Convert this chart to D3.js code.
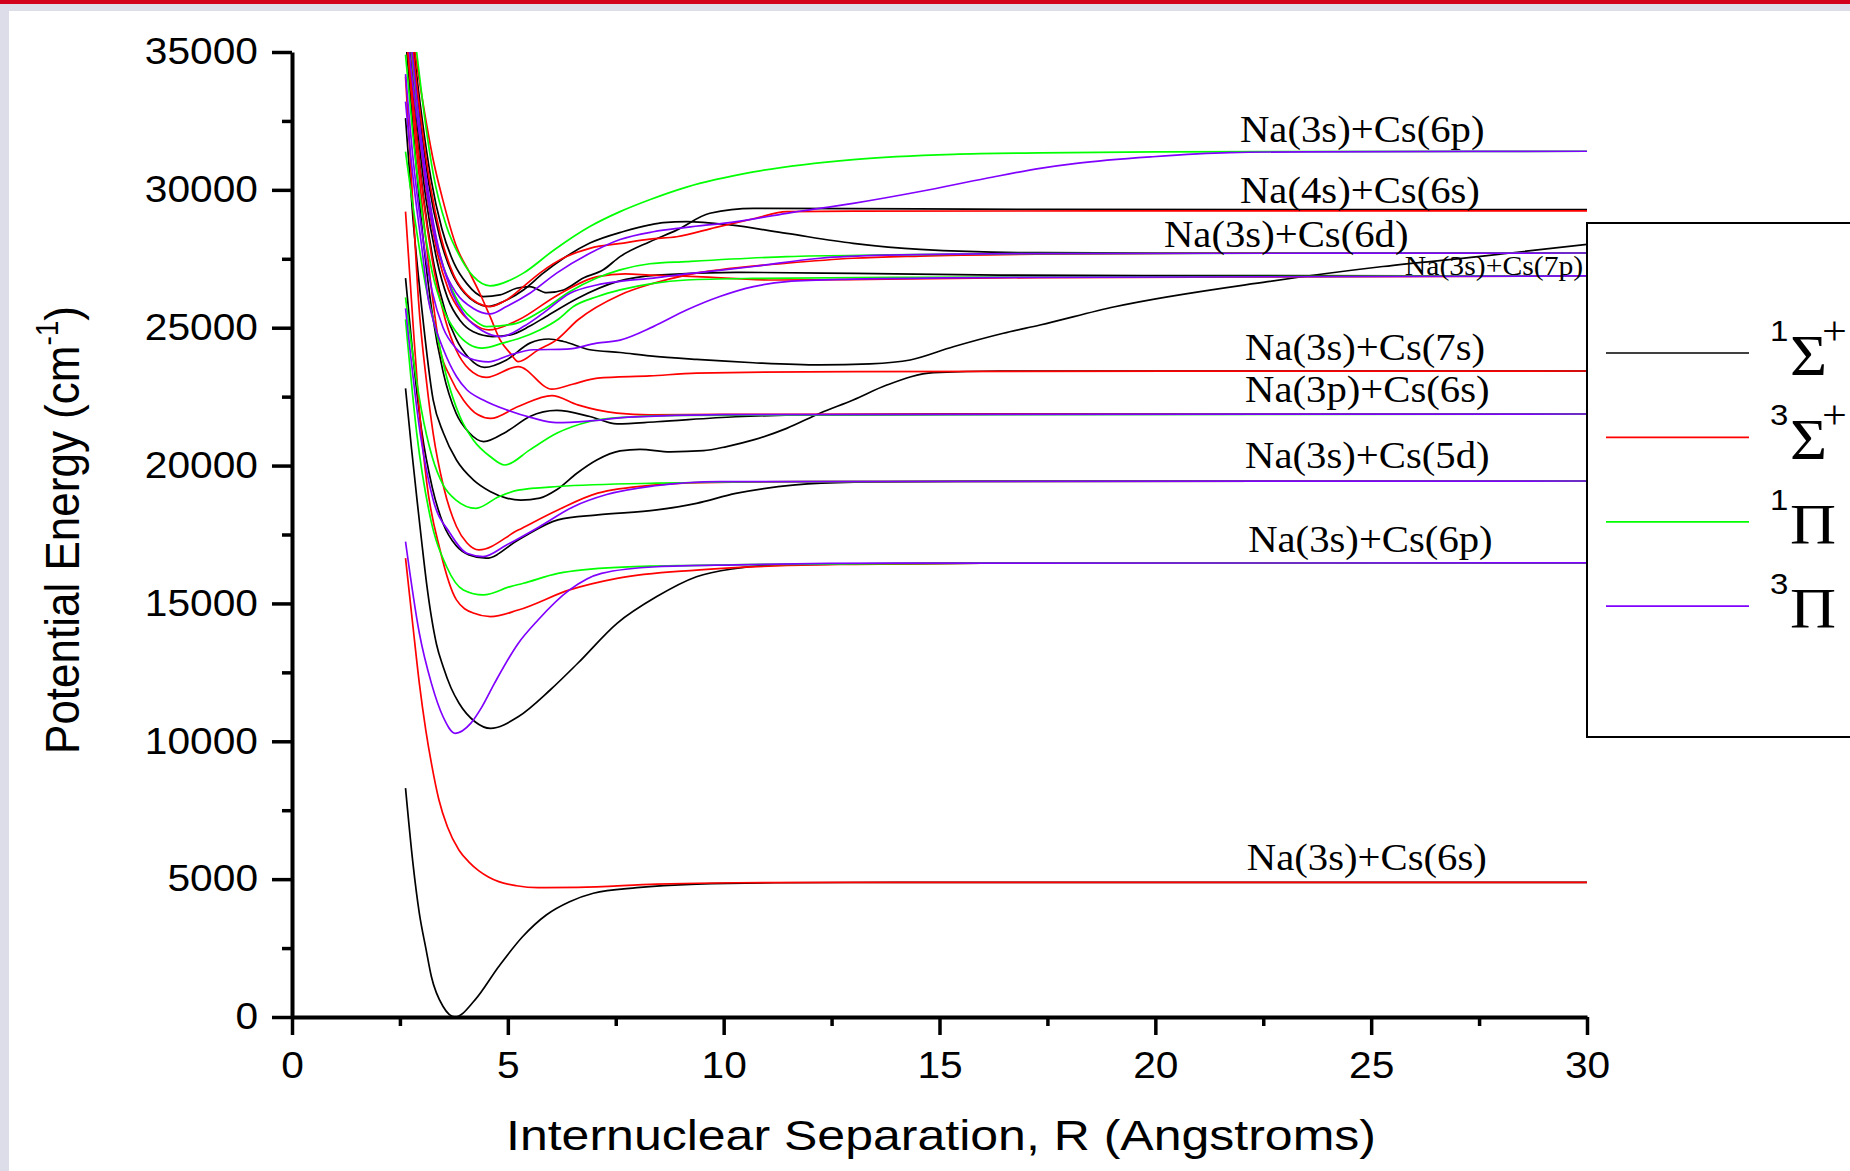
<!DOCTYPE html>
<html>
<head>
<meta charset="utf-8">
<script src="https://cdn.jsdelivr.net/npm/d3@7"></script>
<style>
  body { margin: 0; background: #fff; }
  svg { display: block; }
</style>
</head>
<body>
<div id="chart"></div>
<script>
// ---- data: [R (Angstrom), E (cm-1)] ----
// 1Sigma+ (black)
const sig1_6s = [[2.63,8300],[2.8,5600],[2.95,3760],[3.1,2500],[3.23,1460],[3.5,380],[3.78,0],[4.24,620],[4.79,1830],[5.34,2910],[5.89,3700],[6.43,4180],[6.98,4490],[7.99,4690],[9.37,4820],[11.2,4870],[14,4880],[30,4880]];
const sig1_6p = [[2.63,22800],[2.77,20600],[2.9,18700],[3.0,17300],[3.12,15700],[3.23,14500],[3.35,13500],[3.5,12710],[3.68,11950],[3.87,11380],[4.24,10710],[4.6,10470],[5.24,10890],[5.98,11860],[6.62,12830],[7.53,14280],[8.45,15250],[9.37,15970],[10.28,16270],[11.2,16400],[13.03,16430],[16,16460],[30,16470]];
const sig1_5d = [[2.63,26800],[2.8,24000],[3.0,21300],[3.25,19200],[3.5,17900],[3.8,17100],[4.1,16760],[4.5,16640],[5.24,17300],[6.16,18030],[7.08,18210],[8.45,18390],[9.37,18630],[10.28,18990],[11.66,19300],[13.03,19400],[16,19440],[30,19440]];
const sig1_3p = [[2.63,35600],[2.66,35000],[2.8,32300],[3.0,28800],[3.25,25500],[3.5,23400],[3.8,21900],[4.1,21200],[4.44,20870],[4.97,21230],[5.51,21780],[6.13,22000],[6.9,21780],[7.53,21510],[8.45,21590],[10.28,21770],[12,21840],[16,21870],[30,21870]];
const sig1_7s = [[2.63,32600],[2.8,29000],[3.0,25800],[3.27,22380],[3.51,21170],[3.81,20200],[4.2,19480],[4.59,19060],[4.97,18820],[5.3,18750],[5.74,18820],[6.13,19120],[6.6,19720],[7.06,20200],[7.6,20530],[8.06,20590],[8.76,20500],[9.53,20540],[10.07,20690],[10.69,20930],[11.46,21350],[12.23,21900],[13.0,22380],[13.78,22920],[14.86,23370],[16.4,23430],[30,23430]];
const sig1_hi = [[2.63,36800],[2.71,35000],[2.87,32300],[3.05,29700],[3.3,27200],[3.55,25600],[3.8,24600],[4.1,23900],[4.46,23560],[4.97,23830],[5.51,24440],[5.95,24590],[6.29,24500],[6.9,24200],[7.6,24100],[8.29,23980],[9.37,23850],[10.69,23730],[12.23,23650],[13.39,23690],[14.32,23830],[15.32,24310],[16.48,24800],[17.33,25100],[19.06,25760],[22.6,26670],[25.27,27220],[27.48,27580],[30,28020]];
const sig1_7p = [[2.63,37000],[2.74,35000],[2.9,32400],[3.1,29700],[3.35,27500],[3.6,26100],[3.9,25250],[4.2,24850],[4.65,24680],[5.06,24740],[5.5,25050],[5.88,25400],[6.62,26070],[7.53,26670],[8.45,26910],[10.28,27010],[13.03,26970],[16.4,26910],[20,26890],[30,26880]];
const sig1_6d = [[2.63,38000],[2.8,35000],[2.98,32400],[3.17,30200],[3.42,28300],[3.7,27000],[4.0,26250],[4.25,25920],[4.55,25770],[4.9,25950],[5.36,26370],[5.82,26980],[6.29,27520],[6.9,28070],[7.68,28490],[8.29,28730],[8.6,28810],[9.14,28850],[10.15,28730],[11.46,28420],[13.0,28060],[14.55,27840],[17.33,27720],[20,27710],[30,27710]];
const sig1_4s = [[2.63,38500],[2.83,35000],[3.02,32500],[3.22,30400],[3.47,28600],[3.75,27350],[4.05,26600],[4.43,26130],[4.82,26190],[5.2,26430],[5.51,26490],[5.9,26270],[6.29,26370],[6.75,26800],[7.21,27100],[7.6,27580],[8.29,28120],[8.91,28540],[9.68,29150],[10.69,29330],[13,29320],[17.33,29290],[30,29280]];

// 3Sigma+ (red)
const sig3_6s = [[2.63,16640],[2.8,14200],[2.95,12100],[3.1,10400],[3.23,9200],[3.4,7900],[3.6,6900],[3.87,6050],[4.1,5620],[4.33,5300],[4.55,5080],[4.79,4910],[5.2,4760],[5.7,4690],[6.62,4700],[8.45,4820],[10.28,4870],[13,4880],[30,4880]];
const sig3_6p = [[2.63,29210],[2.81,25000],[2.93,22400],[3.12,19400],[3.43,16940],[3.81,15130],[4.2,14650],[4.6,14520],[5.24,14760],[6.43,15490],[7.53,15910],[9.37,16210],[11.2,16360],[13.03,16420],[16,16460],[30,16470]];
const sig3_5d = [[2.63,34100],[2.8,29500],[2.93,26000],[3.12,22990],[3.27,21170],[3.51,19240],[3.81,17790],[4.05,17200],[4.33,16940],[5.24,17660],[6.16,18390],[7.08,19000],[8.45,19300],[9.5,19380],[12,19420],[30,19440]];
const sig3_3p = [[2.63,36000],[2.68,35000],[2.85,32000],[3.05,28900],[3.2,26800],[3.43,24200],[3.66,23230],[3.97,22380],[4.3,21850],[4.6,21710],[5.24,22140],[6.02,22540],[6.62,22200],[7.53,21900],[8.29,21840],[10,21860],[30,21870]];
const sig3_7s = [[2.63,36500],[2.7,35000],[2.85,32500],[3.05,29600],[3.3,27000],[3.55,25300],[3.8,24200],[4.1,23500],[4.5,23200],[5.24,23590],[6.02,22770],[6.5,22950],[7.08,23170],[8.29,23250],[9.37,23350],[13.03,23410],[30,23430]];
const sig3_7p = [[2.63,37300],[2.76,35000],[2.92,32500],[3.12,29900],[3.37,27700],[3.62,26400],[3.9,25600],[4.2,25150],[4.56,24920],[5.24,25280],[6.16,26190],[7.08,26850],[7.72,26950],[8.29,26910],[9.37,26850],[11.2,26730],[13.77,26760],[17.33,26820],[30,26880]];
const sig3_6d = [[2.63,38000],[2.85,35000],[3.04,33100],[3.27,31100],[3.5,29600],[3.81,27940],[4.12,26980],[4.35,26250],[4.59,25400],[4.82,24560],[5.06,24070],[5.24,23770],[5.7,24190],[6.13,24560],[6.62,25280],[7.6,26190],[8.37,26610],[9.14,26910],[9.91,27100],[11.46,27340],[13.0,27520],[14.55,27600],[17.33,27670],[22,27710],[30,27710]];
const sig3_4s = [[2.63,38200],[2.81,35000],[3.0,32400],[3.2,30200],[3.45,28300],[3.75,26900],[4.05,26200],[4.3,25900],[4.6,25770],[4.97,26010],[5.36,26490],[5.74,26980],[6.36,27580],[6.9,27880],[7.68,28070],[8.29,28210],[8.91,28300],[9.82,28640],[10.74,28970],[11.46,29210],[13,29230],[30,29240]];

// 1Pi (green)
const pi1_6p = [[2.63,25300],[2.89,21170],[3.2,18150],[3.58,16340],[3.97,15490],[4.43,15310],[5.06,15610],[5.36,15730],[6.16,16090],[7.53,16310],[9.37,16380],[11.2,16420],[16,16460],[30,16470]];
const pi1_5d = [[2.63,26100],[2.8,24000],[3.0,22000],[3.25,20300],[3.5,19300],[3.8,18750],[4.26,18450],[4.79,18870],[5.24,19110],[6.16,19240],[8.45,19360],[12,19420],[30,19440]];
const pi1_3p = [[2.63,31390],[2.85,28900],[3.1,26500],[3.35,24800],[3.58,23230],[3.89,21780],[4.2,20930],[4.59,20330],[4.93,20020],[5.51,20570],[6.13,21170],[6.9,21600],[7.68,21750],[9,21820],[30,21870]];
const pi1_7p = [[2.63,34900],[2.8,32000],[3.0,29300],[3.25,27000],[3.5,25700],[3.8,24850],[4.1,24400],[4.4,24260],[4.9,24450],[5.24,24600],[5.74,24920],[6.16,25300],[6.52,25770],[7.08,26130],[7.6,26370],[8.37,26610],[9.14,26730],[10.69,26790],[14,26830],[30,26880]];
const pi1_6d = [[2.63,37500],[2.77,35000],[2.95,32300],[3.15,29900],[3.4,27800],[3.65,26600],[3.95,25700],[4.2,25300],[4.5,25040],[5.2,25160],[5.82,25650],[6.44,26310],[7.06,26800],[7.6,27100],[8.29,27320],[9.14,27400],[11.46,27580],[13.77,27640],[17,27690],[30,27710]];
const pi1_hi = [[2.63,39000],[2.89,34960],[3.04,33020],[3.27,30600],[3.58,28670],[3.89,27580],[4.2,26860],[4.59,26520],[5.06,26730],[5.36,26980],[6.07,27820],[6.9,28670],[7.6,29210],[8.3,29650],[9.14,30100],[10.69,30650],[13.0,31100],[15.32,31290],[17.33,31340],[20,31380],[30,31400]];

// 3Pi (violet)
const pi3_6p = [[2.63,17240],[2.95,13920],[3.23,12100],[3.5,10890],[3.78,10290],[4.14,10650],[4.4,11250],[4.69,12100],[5.24,13550],[5.7,14400],[6.43,15490],[7.17,16090],[8.45,16330],[10.28,16400],[14,16460],[30,16470]];
const pi3_5d = [[2.63,25700],[2.97,21170],[3.27,18760],[3.66,17550],[4.05,16820],[4.43,16700],[4.97,17120],[5.74,17790],[6.52,18510],[7.29,18950],[8.37,19260],[9.92,19420],[30,19440]];
const pi3_3p = [[2.63,33200],[2.8,30500],[3.0,28000],[3.16,26010],[3.27,25280],[3.51,24200],[3.81,23230],[4.05,22750],[4.43,22380],[4.97,22020],[5.59,21720],[6.13,21560],[6.9,21620],[7.8,21760],[10,21850],[30,21870]];
const pi3_7p = [[2.63,34200],[2.8,31200],[3.0,28600],[3.25,26300],[3.5,25000],[3.8,24250],[4.1,23900],[4.55,23760],[5.05,24010],[5.59,24200],[6.36,24220],[7.06,24440],[7.6,24550],[8.37,25040],[9.14,25640],[9.91,26130],[10.69,26490],[11.46,26670],[13.0,26760],[16,26820],[30,26880]];
const pi3_6d = [[2.63,37600],[2.78,35000],[2.97,32200],[3.17,29800],[3.42,27700],[3.7,26300],[4.0,25450],[4.4,24900],[4.85,24680],[5.36,25040],[5.82,25530],[6.44,26250],[7.06,26550],[7.6,26680],[8.37,26800],[9.14,26950],[10.69,27220],[12.23,27520],[13.77,27630],[17,27690],[30,27710]];
const pi3_hi = [[2.63,36800],[2.73,34840],[2.97,31810],[3.2,29150],[3.5,27220],[3.81,26250],[4.2,25700],[4.59,25500],[4.97,25770],[5.51,26250],[6.13,26980],[6.9,27700],[7.6,28200],[8.37,28480],[9.14,28640],[10.3,28850],[11.46,29150],[13.0,29510],[14.55,29940],[16.09,30420],[17.33,30780],[18.17,30960],[19.94,31200],[21.71,31350],[23.48,31380],[30,31400]];

// asymptote labels: text, R, E (baseline)
const asymText = ["Na(3s)+Cs(6p)","Na(4s)+Cs(6s)","Na(3s)+Cs(6d)","Na(3s)+Cs(7p)","Na(3s)+Cs(7s)","Na(3p)+Cs(6s)","Na(3s)+Cs(5d)","Na(3s)+Cs(6p)","Na(3s)+Cs(6s)"];
const asymR = [21.96, 21.96, 20.2, 25.78, 22.08, 22.08, 22.08, 22.15, 22.12];
const asymE = [31740, 29525, 27930, 26910, 23830, 22305, 19913, 16866, 5332];

const xMajor = [0,5,10,15,20,25,30];
const xMinor = [2.5,7.5,12.5,17.5,22.5,27.5];
const yMajor = [0,5000,10000,15000,20000,25000,30000,35000];
const yMinor = [2500,7500,12500,17500,22500,27500,32500];

const legendSup = ["1","3","1","3"];
const legendSym = ["\u03A3","\u03A3","\u03A0","\u03A0"];
const legendPlus = [true,true,false,false];

const black = "#000000", red = "#ff0000", green = "#00ff00", violet = "#8000ff";
const legendColors = [black, red, green, violet];

const groups = [
  {color: black,  curves: [sig1_6s, sig1_6p, sig1_5d, sig1_3p, sig1_7s, sig1_hi, sig1_7p, sig1_6d, sig1_4s]},
  {color: red,    curves: [sig3_6s, sig3_6p, sig3_5d, sig3_3p, sig3_7s, sig3_7p, sig3_6d, sig3_4s]},
  {color: green,  curves: [pi1_6p, pi1_5d, pi1_3p, pi1_7p, pi1_6d, pi1_hi]},
  {color: violet, curves: [pi3_6p, pi3_5d, pi3_3p, pi3_7p, pi3_6d, pi3_hi]}
];

// ---- drawing ----
const width = 1850, height = 1171;
const sans = "'Liberation Sans', Arial, sans-serif";
const serif = "'Liberation Serif', 'Times New Roman', serif";

const x = d3.scaleLinear().domain([0, 30]).range([292, 1587]);
const y = d3.scaleLinear().domain([0, 35000]).range([1017, 52]);

const svg = d3.select("#chart").append("svg")
    .attr("width", width)
    .attr("height", height);

// page frame (slide border)
svg.append("rect").attr("width", width).attr("height", height).attr("fill", "#dddce9");
svg.append("rect").attr("x", 9).attr("y", 11).attr("width", width - 9).attr("height", height - 11).attr("fill", "#fff");
svg.append("rect").attr("width", width).attr("height", 4).attr("fill", "#d2001a");

svg.append("clipPath").attr("id", "plotClip")
  .append("rect").attr("x", 292).attr("y", 52).attr("width", 1295).attr("height", 970);

const line = d3.line()
    .x(d => x(d[0]))
    .y(d => y(d[1]))
    .curve(d3.curveMonotoneX);

const plot = svg.append("g").attr("clip-path", "url(#plotClip)");
groups.forEach(g => {
  plot.selectAll(null)
    .data(g.curves)
    .enter()
    .append("path")
    .attr("d", line)
    .attr("fill", "none")
    .attr("stroke", g.color)
    .attr("stroke-width", 1.7);
});

// axes
svg.append("g")
    .attr("transform", "translate(292,0)")
    .call(d3.axisLeft(y).tickValues(yMajor).tickSize(20).tickPadding(14).tickSizeOuter(0).tickFormat(d3.format("d")));
svg.append("g")
    .attr("transform", "translate(292,0)")
    .call(d3.axisLeft(y).tickValues(yMinor).tickSize(10).tickFormat(""))
    .call(g => g.select(".domain").remove());

svg.append("g")
    .attr("transform", "translate(0,1017)")
    .call(d3.axisBottom(x).tickValues(xMajor).tickSize(18).tickPadding(17).tickSizeOuter(0));
svg.append("g")
    .attr("transform", "translate(0,1017)")
    .call(d3.axisBottom(x).tickValues(xMinor).tickSize(9).tickFormat(""))
    .call(g => g.select(".domain").remove());

svg.selectAll(".domain").attr("stroke", "#000").attr("stroke-width", 4);
svg.selectAll(".tick line").attr("stroke", "#000").attr("stroke-width", 3.5);
svg.selectAll(".tick text")
    .attr("fill", "#000")
    .attr("class", "stretch")
    .style("font-family", sans)
    .style("font-size", "37px");

// axis titles
svg.append("text")
    .attr("x", 941)
    .attr("y", 1150)
    .attr("text-anchor", "middle")
    .attr("textLength", 870)
    .attr("lengthAdjust", "spacingAndGlyphs")
    .style("font-family", sans)
    .style("font-size", "42px")
    .text("Internuclear Separation, R (Angstroms)");

const yt = svg.append("text")
    .attr("transform", "translate(79,530) scale(1.1,1) rotate(-90)")
    .attr("text-anchor", "middle")
    .style("font-family", sans)
    .style("font-size", "44px");
yt.append("tspan").text("Potential Energy (cm");
yt.append("tspan").attr("dy", -19).style("font-size", "28px").text("-1");
yt.append("tspan").attr("dy", 19).text(")");

// asymptote labels
svg.selectAll(".asym")
  .data(asymText)
  .enter()
  .append("text")
  .attr("class", "stretch")
  .attr("x", (d, i) => x(asymR[i]))
  .attr("y", (d, i) => y(asymE[i]))
  .style("font-family", serif)
  .style("font-size", (d, i) => i === 3 ? "27px" : "37px")
  .text(d => d);

// legend
svg.append("rect")
    .attr("x", 1587).attr("y", 223)
    .attr("width", 300).attr("height", 514)
    .attr("fill", "#fff")
    .attr("stroke", "#000")
    .attr("stroke-width", 2);

legendColors.forEach((c, i) => {
  const ly = 353 + i * 84.4;
  svg.append("line")
    .attr("x1", 1606).attr("x2", 1749)
    .attr("y1", ly).attr("y2", ly)
    .attr("stroke", c).attr("stroke-width", 1.7);
  svg.append("text").attr("class", "stretch")
    .attr("x", 1770).attr("y", ly - 12)
    .style("font-family", sans).style("font-size", "30px")
    .text(legendSup[i]);
  svg.append("text").attr("class", "stretch")
    .attr("x", 1790).attr("y", ly + 22)
    .style("font-family", serif).style("font-size", "58px")
    .text(legendSym[i]);
  if (legendPlus[i]) {
    svg.append("text").attr("class", "stretch")
      .attr("x", 1822).attr("y", ly - 9)
      .style("font-family", serif).style("font-size", "40px")
      .text("+");
  }
});

// the original figure is slightly stretched horizontally
svg.selectAll("text.stretch").each(function() {
  const w = this.getComputedTextLength();
  this.setAttribute("textLength", w * 1.1);
  this.setAttribute("lengthAdjust", "spacingAndGlyphs");
});
</script>
</body>
</html>
